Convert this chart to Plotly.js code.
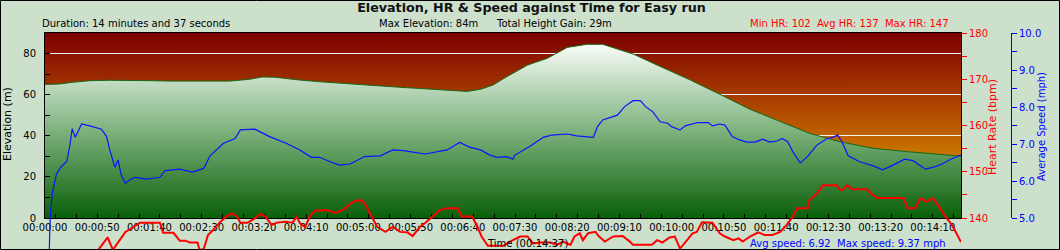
<!DOCTYPE html>
<html>
<head>
<meta charset="utf-8">
<script src="https://cdn.plot.ly/plotly-3.0.1.min.js"></script>
<style>
html,body{margin:0;padding:0;background:#cce0cc;overflow:hidden;}
#chart{width:1060px;height:250px;}
</style>
</head>
<body>
<div id="chart"></div>
<script>
// ---------------- data ----------------
const elevTime = [0,14,26,43,62,81,101,120,139,158,177,196,208,220,235,244,263,282,308,340,369,388,404,417,429,442,462,481,490,500,519,534,551,563,586,618,646,675,704,732,761,793,825,873,877];
const elevation = [65.0,65.2,66.0,66.8,67.0,67.0,66.8,66.6,66.6,66.5,66.6,67.5,68.6,68.5,67.6,67.1,66.3,65.5,64.7,63.6,62.8,62.3,61.6,62.6,64.7,68.7,74.4,77.7,80.1,83.0,84.5,84.5,81.7,79.8,74.4,67.1,60.2,52.9,46.9,41.2,37.1,33.9,32.3,30.2,30.1];

const hrTime = [0,12,25,38,47,51,60,65,77,91,110,113,123,129,134,139,146,148,152,156,161,168,174,180,184,187,194,201,206,211,217,222,230,237,241,244,249,254,259,270,278,285,295,302,306,311,318,326,333,340,347,352,359,364,372,378,385,395,399,409,414,418,424,439,445,455,462,467,474,484,490,496,503,507,512,515,520,527,530,536,544,553,560,563,581,586,591,598,603,608,611,620,624,629,639,646,651,659,664,668,675,683,689,696,704,710,716,720,730,732,739,745,758,761,764,768,773,787,792,797,822,826,833,838,841,844,850,855,862,867,871,876,877];
const heartRate = [102,108,118,127,131.5,133.1,135.8,133.1,137.0,139.0,139.0,136.8,136.8,135.1,135.1,134.7,134.7,133.1,133.3,136.3,137.4,139.2,140.4,141.0,140.2,139.0,139.0,139.9,140.9,140.3,138.5,139.0,139.2,139.0,140.3,138.9,138.0,140.6,141.6,141.7,141.1,141.7,143.5,143.9,143.2,141.0,138.1,137.0,138.1,137.0,136.9,136.1,138.1,138.9,140.4,141.7,142.1,142.1,140.3,140.3,138.1,136.0,134.0,134.0,134.9,136.0,136.0,134.5,134.7,134.7,134.2,134.9,134.2,136.0,136.7,135.2,136.7,137.0,136.1,134.9,136.0,136.1,134.9,134.2,134.2,135.2,134.7,135.8,136.0,133.4,134.2,136.7,137.0,139.1,139.0,136.7,136.0,135.2,135.6,134.9,136.0,136.9,136.3,136.3,137.0,138.5,140.3,142.1,142.1,143.9,145.3,147.1,147.1,146.1,146.1,147.1,146.2,146.2,145.0,144.3,144.3,142.1,142.1,144.3,143.9,143.5,144.3,142.8,140.3,138.9,137.4,135.1,134.8];

const speedTime = [0,5,7,11,15,21,24,26,29,35,43,54,59,62,67,70,73,77,81,86,97,110,115,129,141,152,158,171,182,187,201,215,231,244,255,263,273,282,292,302,306,321,333,343,359,364,385,397,407,417,426,433,442,448,450,464,477,485,500,509,525,529,534,548,555,563,570,575,582,589,596,600,608,613,625,635,639,646,651,658,665,672,680,687,694,701,706,711,716,723,730,734,739,749,754,759,763,769,780,793,802,812,823,831,843,850,859,867,876,877];
const speed = [0.0,5.04,5.67,6.19,6.37,6.54,7.00,7.41,7.18,7.54,7.49,7.40,7.20,6.84,6.37,6.57,6.16,5.94,6.03,6.10,6.05,6.10,6.28,6.32,6.24,6.34,6.68,7.02,7.15,7.38,7.40,7.20,7.02,6.84,6.64,6.64,6.52,6.43,6.46,6.61,6.66,6.68,6.84,6.82,6.76,6.73,6.84,7.04,6.91,6.84,6.70,6.64,6.66,6.59,6.70,6.93,7.18,7.24,7.27,7.22,7.18,7.47,7.65,7.78,8.01,8.17,8.17,8.01,7.87,7.60,7.56,7.47,7.38,7.49,7.58,7.58,7.49,7.54,7.51,7.20,7.11,7.05,7.05,7.13,7.05,7.08,7.15,7.06,6.79,6.49,6.66,6.79,6.97,7.15,7.18,7.24,7.06,6.68,6.52,6.41,6.30,6.43,6.59,6.55,6.32,6.37,6.46,6.59,6.68,6.70];

const timeTickVals = [0,50,100,150,200,250,300,350,400,450,500,550,600,650,700,750,800,850];
const timeTickText = ['00:00:00','00:00:50','00:01:40','00:02:30','00:03:20','00:04:10','00:05:00','00:05:50','00:06:40','00:07:30','00:08:20','00:09:10','00:10:00','00:10:50','00:11:40','00:12:30','00:13:20','00:14:10'];

const timeRange = [0, 877];
const elevRange = [0, 90];
const hrRange = [140, 180];
const speedRange = [5, 10];

const titleText = 'Elevation, HR & Speed against Time for Easy run';
const durationText = 'Duration: 14 minutes and 37 seconds';
const maxElevText = 'Max Elevation: 84m';
const gainText = 'Total Height Gain: 29m';
const hrStatsText = 'Min HR: 102\u00a0\u00a0Avg HR: 137\u00a0\u00a0Max HR: 147';
const speedStatsText = 'Avg speed: 6.92\u00a0\u00a0Max speed: 9.37 mph';
const timeTitle = 'Time (00:14:37)';

// ---------------- layout geometry (pixels) ----------------
const FW = 1060, FH = 250;
const L = 45, R = 1011, T = 33;
const FRAME_R = 961, FRAME_B = 218;
const PW = R - L, PH = FH - T;
const xDom = [0, (FRAME_R - L) / PW];
const yDom = [(FH - FRAME_B) / PH, 1];
const px = v => (v - L) / PW;
const py = v => (FH - v) / PH;
const PADX = 3; // annotation box padding
function extRange(r){ const span = (r[1]-r[0])/(1-yDom[0]); return [r[1]-span, r[1]]; }

function gradientURL(stops){
  const c = document.createElement('canvas'); c.width = 4; c.height = 256;
  const g = c.getContext('2d'); const lg = g.createLinearGradient(0,0,0,256);
  stops.forEach(s => lg.addColorStop(s[0], s[1]));
  g.fillStyle = lg; g.fillRect(0,0,4,256);
  return c.toDataURL('image/png');
}
const bgURL = gradientURL([[0,'rgb(126,0,0)'],[0.5,'rgb(186,88,0)'],[1,'rgb(232,184,0)']]);

const FONT = 'DejaVu Sans';

const traces = [
  {x: elevTime, y: elevation, xaxis:'x', yaxis:'y', type:'scatter', mode:'lines',
   line:{color:'rgb(20,105,20)', width:1}, fill:'tozeroy',
   fillgradient:{type:'vertical', start:0, stop:85,
     colorscale:[[0,'rgb(10,96,10)'],[0.5,'rgb(125,178,125)'],[1,'rgb(250,253,250)']]},
   hoverinfo:'skip', showlegend:false},
  // empty traces that only register the axis-only subplots
  {x: [], y: [], xaxis:'x2', yaxis:'y', type:'scatter', mode:'lines', hoverinfo:'skip', showlegend:false},
  {x: [], y: [], xaxis:'x', yaxis:'y2', type:'scatter', mode:'lines', hoverinfo:'skip', showlegend:false},
  {x: [], y: [], xaxis:'x', yaxis:'y3', type:'scatter', mode:'lines', hoverinfo:'skip', showlegend:false},
  {x: speedTime, y: speed, xaxis:'x', yaxis:'y4', type:'scatter', mode:'lines',
   line:{color:'#0a14ff', width:1.2}, hoverinfo:'skip', showlegend:false},
  {x: hrTime, y: heartRate, xaxis:'x', yaxis:'y5', type:'scatter', mode:'lines',
   line:{color:'#ff0000', width:2}, hoverinfo:'skip', showlegend:false}
];

const tickFont = {family: FONT, size: 10, color: '#000'};

const layout = {
  width: FW, height: FH,
  margin: {l: L, r: FW - R, t: T, b: 0, pad: 0},
  paper_bgcolor: '#cce0cc', plot_bgcolor: 'rgba(0,0,0,0)',
  showlegend: false,
  title: {text: titleText, x: 531.5/FW, xref:'container', xanchor:'center',
          y: 1 - 8/FH, yref:'container', yanchor:'middle',
          font:{family: FONT, size: 12.7, weight: 700, color:'#111'}},
  xaxis: {domain: xDom, range: timeRange, anchor:'y',
          tickmode:'array', tickvals: timeTickVals, ticktext: timeTickText,
          ticks:'', showgrid:false, zeroline:false,
          showline:true, linecolor:'#000', linewidth:1, mirror:true,
          tickfont: tickFont, ticklabelstandoff: 0},
  xaxis2: {overlaying:'x', range: timeRange, anchor:'y', side:'bottom', domain: xDom,
           tickmode:'linear', tick0: 10, dtick: 20, ticks:'inside', ticklen:4, tickcolor:'#000',
           showticklabels:false, showgrid:false, zeroline:false, showline:false},
  yaxis: {domain: yDom, range: elevRange, anchor:'x',
          tickmode:'linear', tick0:0, dtick:20, ticks:'inside', ticklen:5, tickcolor:'#000',
          minor:{tickmode:'linear', tick0:0, dtick:10, ticks:'inside', ticklen:5, tickcolor:'#000', showgrid:false},
          showgrid:true, gridcolor:'#f2f2f2', gridwidth:1, zeroline:false,
          showline:true, linecolor:'#000', linewidth:1, mirror:true,
          tickfont: tickFont, ticklabelstandoff: 6},
  yaxis2: {overlaying:'y', side:'right', anchor:'x', range: hrRange,
           tickmode:'linear', tick0:140, dtick:10, ticks:'outside', ticklen:5, tickcolor:'#ff0000',
           minor:{tickmode:'linear', tick0:140, dtick:5, ticks:'outside', ticklen:5, tickcolor:'#ff0000'},
           showgrid:false, zeroline:false, showline:false,
           tickfont:{family: FONT, size:10, color:'#ff0000'}},
  yaxis3: {overlaying:'y', side:'right', anchor:'free', position:1, range: speedRange,
           tickmode:'linear', tick0:5, dtick:1, tickformat:'.1f', ticks:'outside', ticklen:5, tickcolor:'#0000ff',
           minor:{tickmode:'linear', tick0:5, dtick:0.5, ticks:'outside', ticklen:5, tickcolor:'#0000ff'},
           showgrid:false, zeroline:false, showline:true, linecolor:'#0000ff', linewidth:1,
           tickfont:{family: FONT, size:10, color:'#0000ff'}},
  yaxis4: {domain:[0,1], anchor:'x', range: extRange(speedRange), visible:false, fixedrange:true},
  yaxis5: {domain:[0,1], anchor:'x', range: extRange(hrRange), visible:false, fixedrange:true},
  images: [{source: bgURL, xref:'x', yref:'y', x: timeRange[0], y: elevRange[1],
            sizex: timeRange[1]-timeRange[0], sizey: elevRange[1]-elevRange[0],
            sizing:'stretch', xanchor:'left', yanchor:'top', layer:'below'}],
  annotations: [
    {text: durationText, xref:'paper', yref:'paper', x: px(43-PADX), y: py(23.5), xanchor:'left', yanchor:'middle', showarrow:false, font:{family:FONT, size:10, color:'#000'}},
    {text: maxElevText, xref:'paper', yref:'paper', x: px(380-PADX), y: py(23.5), xanchor:'left', yanchor:'middle', showarrow:false, font:{family:FONT, size:10, color:'#000'}},
    {text: gainText, xref:'paper', yref:'paper', x: px(496.7-PADX), y: py(23.5), xanchor:'left', yanchor:'middle', showarrow:false, font:{family:FONT, size:10, color:'#000'}},
    {text: hrStatsText, xref:'paper', yref:'paper', x: px(750.7-PADX), y: py(23.5), xanchor:'left', yanchor:'middle', showarrow:false, font:{family:FONT, size:10, color:'#ff0000'}},
    {text: timeTitle, xref:'paper', yref:'paper', x: px(527), y: py(243), xanchor:'center', yanchor:'middle', showarrow:false, font:{family:FONT, size:10, color:'#000'}},
    {text: speedStatsText, xref:'paper', yref:'paper', x: px(750.7-PADX), y: py(243), xanchor:'left', yanchor:'middle', showarrow:false, font:{family:FONT, size:10, color:'#0000ff'}},
    {text: 'Elevation (m)', xref:'paper', yref:'paper', x: px(8), y: py(124), xanchor:'center', yanchor:'middle', textangle:-90, showarrow:false, font:{family:FONT, size:11, color:'#000'}},
    {text: 'Heart Rate (bpm)', xref:'paper', yref:'paper', x: px(992.5), y: py(127.5), xanchor:'center', yanchor:'middle', textangle:-90, showarrow:false, font:{family:FONT, size:11, color:'#ff0000'}},
    {text: 'Average Speed (mph)', xref:'paper', yref:'paper', x: px(1041.5), y: py(126.5), xanchor:'center', yanchor:'middle', textangle:-90, showarrow:false, font:{family:FONT, size:10, color:'#0000ff'}}
  ],
  shapes: [
    {type:'rect', xref:'paper', yref:'paper', x0: px(0.5), x1: px(FW-0.5), y0: py(FH-0.5), y1: py(0.5),
     line:{color:'#000', width:1}, fillcolor:'rgba(0,0,0,0)', layer:'above'}
  ]
};

Plotly.newPlot('chart', traces, layout, {staticPlot:true, displayModeBar:false});
</script>
</body>
</html>
